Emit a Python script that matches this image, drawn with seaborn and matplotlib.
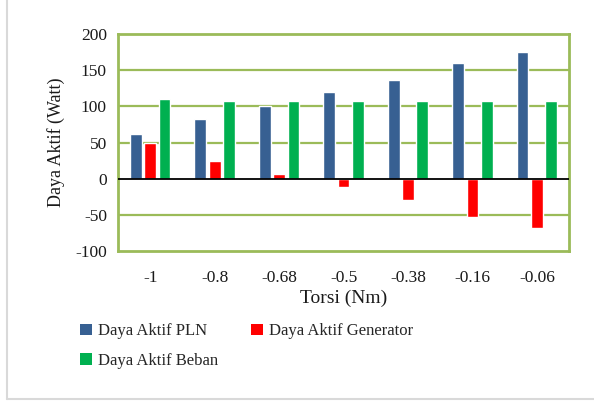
import matplotlib
matplotlib.use("Agg")
import matplotlib.pyplot as plt
from matplotlib.lines import Line2D
from matplotlib.patches import Patch
from matplotlib.font_manager import FontProperties
import seaborn as sns
import pandas as pd

torsi = ["-1", "-0.8", "-0.68", "-0.5", "-0.38", "-0.16", "-0.06"]
daya_pln = [62, 82, 101, 120, 136, 160, 175]
daya_generator = [49, 25, 7, -12, -29, -53, -68]
daya_beban = [110, 107, 107, 107, 107, 107, 107]

series = ["Daya Aktif PLN", "Daya Aktif Generator", "Daya Aktif Beban"]
colors = ["#376092", "#FF0000", "#00B050"]

df = pd.DataFrame({
    "Torsi": torsi * 3,
    "Daya": daya_pln + daya_generator + daya_beban,
    "Seri": [series[0]] * 7 + [series[1]] * 7 + [series[2]] * 7,
})

sns.set_style("white")
plt.rcParams["font.family"] = ["Liberation Serif", "DejaVu Serif"]
plt.rcParams["axes.unicode_minus"] = False

fig = plt.figure(figsize=(5.94, 4.03), dpi=100)
ax = fig.add_axes([0.1987, 0.3772, 0.7593, 0.5384])

sns.barplot(data=df, x="Torsi", y="Daya", hue="Seri", order=torsi,
            hue_order=series, palette=colors, width=0.667, gap=0.18,
            saturation=1, legend=False, ax=ax)

grid_color = "#9BBB59"
ax.set_ylim(-100, 200)
ax.set_yticks(range(-100, 201, 50))
ax.set_xlim(-0.5, 6.5)
for yv in range(-50, 200, 50):
    if yv != 0:
        ax.axhline(yv, color=grid_color, lw=1.6, zorder=0)
ax.axhline(0, color="black", lw=1.3, zorder=3)
for s in ax.spines.values():
    s.set_visible(True)
    s.set_color(grid_color)
    s.set_linewidth(2)

ax.tick_params(axis="both", length=0, labelsize=12.5, colors="#1a1a1a")
ax.tick_params(axis="x", pad=14)
ax.tick_params(axis="y", pad=8)
ax.set_xlabel("Torsi (Nm)", fontsize=14, color="#1a1a1a", labelpad=2)
ax.set_ylabel("Daya Aktif (Watt)", fontsize=13, color="#1a1a1a", labelpad=7)

# legend laid out row by row: PLN, Generator / Beban
order = [0, 2, 1]
handles = [Patch(facecolor=colors[i], edgecolor="none") for i in order]
labels = [series[i] for i in order]
legend_font = FontProperties(family="Liberation Serif", size=12)
fig.legend(handles, labels, loc="upper left", bbox_to_anchor=(0.124, 0.214),
           ncol=2, frameon=False, prop=legend_font, handlelength=0.7,
           handleheight=0.7, handletextpad=0.35, columnspacing=2.0,
           labelspacing=0.8, borderaxespad=0)

# page border lines
fig.add_artist(Line2D([0.012, 0.012], [0.01, 1.0], color="#d9d9d9", lw=1.5,
                      transform=fig.transFigure))
fig.add_artist(Line2D([0.012, 1.0], [0.01, 0.01], color="#d9d9d9", lw=1.5,
                      transform=fig.transFigure))

fig.savefig("out.png", dpi=100)
